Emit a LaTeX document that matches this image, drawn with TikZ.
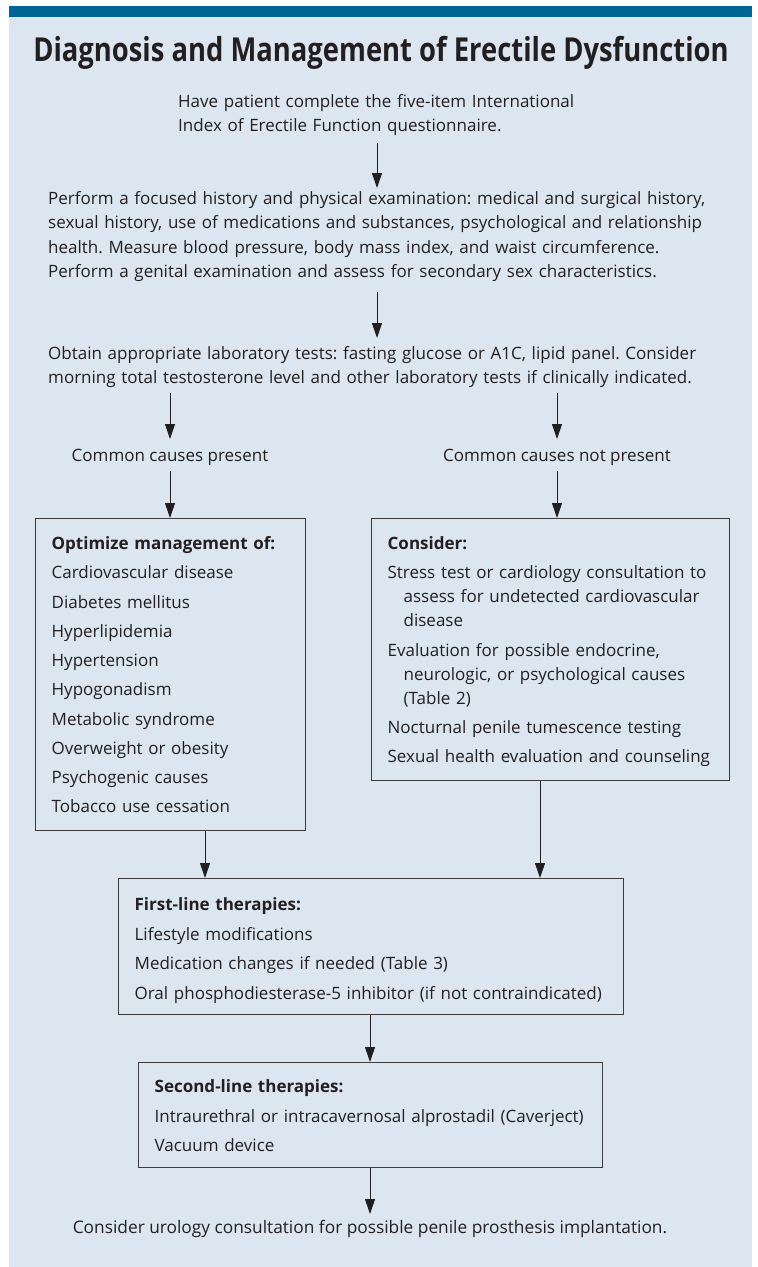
\documentclass[tikz,border=0pt]{standalone}
\usepackage{fontspec}
\setmainfont{Open Sans}
\newfontfamily\headfont[FakeStretch=0.83]{Open Sans}
\usetikzlibrary{arrows.meta, calc}
\definecolor{panelblue}{RGB}{219,230,240}
\definecolor{barblue}{RGB}{0,101,148}
\definecolor{inkgray}{RGB}{35,31,32}
\definecolor{rulegray}{RGB}{60,60,62}
\frenchspacing

\begin{document}
\begin{tikzpicture}[x=1pt, y=-1pt, >={Triangle[length=15pt, width=10pt]},
	font=\fontsize{17}{24.5}\selectfont,
	every node/.style={inner sep=0pt, text=inkgray},
	txt/.style={align=left, anchor=base west},
	stepbox/.style={draw=rulegray, line width=1.3pt, anchor=north west,
		inner xsep=16pt, inner ysep=0pt, align=left},
	flow/.style={->, draw=inkgray, line width=1pt}]
	
	\useasboundingbox (0,0) rectangle (758,1267);
	
	%========================
	% Panel and header bar
	%========================
	\fill[panelblue] (9,6) rectangle (752,1267);
	\fill[barblue] (9,6) rectangle (752,17);
	\node[anchor=base, font=\headfont\fontsize{33}{38}\selectfont\bfseries] (title) at (381,61)
	{Diagnosis and Management of Erectile Dysfunction};
	
	% spines for the arrows
	\coordinate (spine) at (377,0);
	\coordinate (lspine) at (170,0);
	\coordinate (rspine) at (557,0);
	\coordinate (mspine) at (370,0);
	
	%========================
	% Work-up
	%========================
	\node[txt, text width=440] (intro) at (178,107)
	{Have patient complete the five-item International\\
		Index of Erectile Function questionnaire.};
	
	\node[txt, text width=700] (exam) at (48,204)
	{Perform a focused history and physical examination: medical and surgical history,\\
		sexual history, use of medications and substances, psychological and relationship\\
		health. Measure blood pressure, body mass index, and waist circumference.\\
		Perform a genital examination and assess for secondary sex characteristics.};
	
	\node[txt, text width=700] (labs) at (48,359)
	{Obtain appropriate laboratory tests: fasting glucose or A1C, lipid panel. Consider\\
		morning total testosterone level and other laboratory tests if clinically indicated.};
	
	\node[anchor=base] (present) at (170,461) {Common causes present};
	\node[anchor=base] (absent) at (557,461) {Common causes not present};
	
	%========================
	% Two branches
	%========================
	\node[stepbox, text width=238, text height=31, text depth=281] (optimize) at (35,518)
	{\textbf{Optimize management of:}\\[4.75pt]
		Cardiovascular disease\\[4.75pt]
		Diabetes mellitus\\[4.75pt]
		Hyperlipidemia\\[4.75pt]
		Hypertension\\[4.75pt]
		Hypogonadism\\[4.75pt]
		Metabolic syndrome\\[4.75pt]
		Overweight or obesity\\[4.75pt]
		Psychogenic causes\\[4.75pt]
		Tobacco use cessation};
	
	\node[stepbox, text width=326, text height=31, text depth=231] (consider) at (371,518)
	{\textbf{Consider:}\\[4.75pt]
		Stress test or cardiology consultation to\\[-0.5pt]
		\hspace*{16pt}assess for undetected cardiovascular\\[-0.5pt]
		\hspace*{16pt}disease\\[4.75pt]
		Evaluation for possible endocrine,\\[-0.5pt]
		\hspace*{16pt}neurologic, or psychological causes\\[-0.5pt]
		\hspace*{16pt}(Table 2)\\[4.75pt]
		Nocturnal penile tumescence testing\\[4.75pt]
		Sexual health evaluation and counseling};
	
	%========================
	% Therapies
	%========================
	\node[stepbox, text width=473, text height=32, text depth=104] (firstline) at (118,878)
	{\textbf{First-line therapies:}\\[5pt]
		Lifestyle modifications\\[5pt]
		Medication changes if needed (Table 3)\\[5pt]
		Oral phosphodiesterase-5 inhibitor (if not contraindicated)};
	
	\node[stepbox, text width=432, text height=30, text depth=75] (secondline) at (138,1062)
	{\textbf{Second-line therapies:}\\[5pt]
		Intraurethral or intracavernosal alprostadil (Caverject)\\[5pt]
		Vacuum device};
	
	\node[anchor=base, font=\fontsize{17.3}{24.5}\selectfont] (urology) at (370,1233)
	{Consider urology consultation for possible penile prosthesis implantation.};
	
	% arrows
	\draw[flow] ($(intro.base -| spine)+(0,36)$) -- ($(exam.base -| spine)+(0,-16)$);
	\draw[flow] ($(exam.base -| spine)+(0,88)$) -- ($(labs.base -| spine)+(0,-21)$);
	\draw[flow] ($(labs.base -| lspine)+(0,34)$) -- ($(present.base)+(0,-22)$);
	\draw[flow] ($(labs.base -| rspine)+(0,34)$) -- ($(absent.base)+(0,-22)$);
	\draw[flow] ($(present.base)+(0,10)$) -- (optimize.north -| lspine);
	\draw[flow] ($(absent.base)+(0,10)$) -- (consider.north -| rspine);
	\draw[flow] (optimize.south -| 205,0) -- (firstline.north -| 205,0);
	\draw[flow] (consider.south -| 540,0) -- (firstline.north -| 540,0);
	\draw[flow] (firstline.south -| mspine) -- (secondline.north -| mspine);
	\draw[flow] (secondline.south -| mspine) -- ($(urology.base -| mspine)+(0,-19)$);
	
\end{tikzpicture}
\end{document}
